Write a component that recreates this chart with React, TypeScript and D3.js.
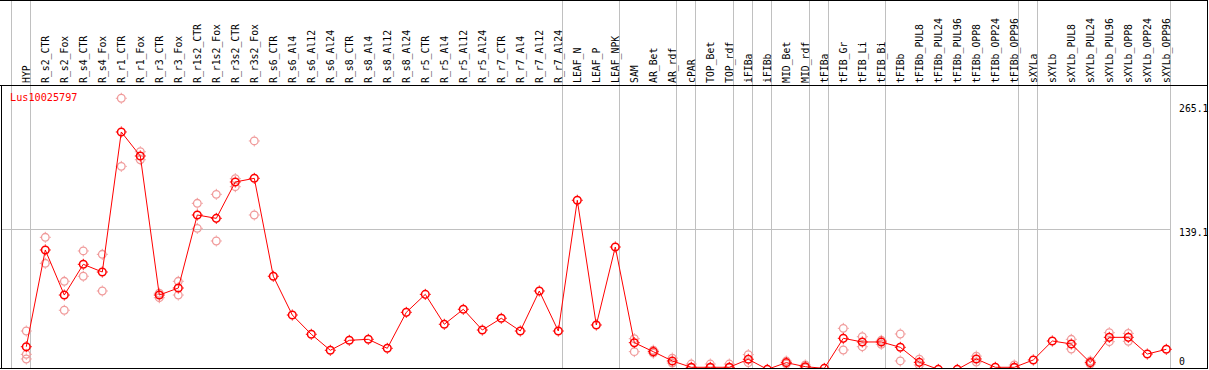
import React from "react";
import * as d3 from "d3";

const categories = [
  "HYP", "R_s2_CTR", "R_s2_Fox", "R_s4_CTR", "R_s4_Fox", "R_r1_CTR", "R_r1_Fox", "R_r3_CTR", "R_r3_Fox",
  "R_r1s2_CTR", "R_r1s2_Fox", "R_r3s2_CTR", "R_r3s2_Fox", "R_s6_CTR", "R_s6_Al4", "R_s6_Al12", "R_s6_Al24",
  "R_s8_CTR", "R_s8_Al4", "R_s8_Al12", "R_s8_Al24", "R_r5_CTR", "R_r5_Al4", "R_r5_Al12", "R_r5_Al24",
  "R_r7_CTR", "R_r7_Al4", "R_r7_Al12", "R_r7_Al24", "LEAF_N", "LEAF_P", "LEAF_NPK", "SAM", "AR_Bet", "AR_rdf",
  "cPAR", "TOP_Bet", "TOP_rdf", "iFIBa", "iFIBb", "MID_Bet", "MID_rdf", "tFIBa", "tFIB_Gr", "tFIB_Li", "tFIB_Bi",
  "tFIBb", "tFIBb_PUL8", "tFIBb_PUL24", "tFIBb_PUL96", "tFIBb_OPP8", "tFIBb_OPP24", "tFIBb_OPP96", "sXYLa",
  "sXYLb", "sXYLb_PUL8", "sXYLb_PUL24", "sXYLb_PUL96", "sXYLb_OPP8", "sXYLb_OPP24", "sXYLb_OPP96",
];

const means = [
  19.5, 117.4, 71.8, 102.9, 95.1, 236.8, 212.5, 71.8, 78.9,
  152.8, 149.4, 186.2, 189.9, 90.8, 51.6, 32.1, 15.9,
  26.0, 27.0, 17.9, 54.3, 72.5, 42.2, 57.4, 36.4,
  48.3, 35.4, 75.9, 35.4, 167.7, 41.5, 120.4, 23.6, 14.5, 5.1,
  -1.3, -1.3, -1.3, 6.8, -3.4, 3.4, -0.7, -2.4, 28.0, 24.3, 24.3,
  18.9, 3.7, -3.4, -3.4, 7.1, -1.3, -1.3, 6.1,
  25.3, 22.3, 3.4, 29.0, 29.0, 12.1, 16.9,
];

const replicates: number[][] = [
  [35.4, 11.8, 7.1], [130.2, 103.9], [85.7, 56.4], [116.4, 90.8], [113, 75.9], [270.9, 202], [216.8, 208.7],
  [69.1, 73.6], [85.7, 71.8], [164.6, 139.3], [173.7, 126.5], [189.5, 181.4], [227.7, 152.8],
  [], [], [], [], [], [], [], [], [], [], [], [], [], [], [], [], [], [], [],
  [27.6, 14.5], [16, 13], [8, 3], [2, -2], [2, -2], [2, -2], [11.5, 3.4], [], [5, 2], [1, -2], [],
  [38.1, 16.2], [29.6, 19.5], [26, 22], [32.4, 5.1], [7, 1], [], [], [10, 4], [], [1, -2], [], [],
  [27, 17.2], [5, 2], [33.7, 24.6], [33, 25], [], [],
];

const groupEnds = ["HYP", "R_r7_A124", "LEAF_NPK", "AR_rdf", "cPAR", "TOP_rdf", "iFIBa", "iFIBb", "MID_rdf",
  "tFIBa", "tFIB_Bi", "tFIBb_OPP96", "sXYLa", "sXYLb_OPP96"].map((s) => s.replace("A124", "Al24"));

const yTicks = [0, 139.1, 265.1];
const title = "Lus10025797";

const W = 1209, H = 370;
const FONT = "'DejaVu Sans Mono', monospace";

function Marker({ x, y, color, sw }: { x: number; y: number; color: string; sw: number }) {
  return (
    <g stroke={color} fill="none" strokeWidth={sw}>
      <circle cx={x} cy={y} r={3.8} />
      <line x1={x} x2={x} y1={y - 5.5} y2={y - 4.3} strokeWidth={1} />
      <line x1={x} x2={x} y1={y + 4.3} y2={y + 5.5} strokeWidth={1} />
      <line x1={x - 5.5} x2={x - 4.3} y1={y} y2={y} strokeWidth={1} />
      <line x1={x + 4.3} x2={x + 5.5} y1={y} y2={y} strokeWidth={1} />
    </g>
  );
}

export default function App() {
  const x = d3.scaleBand<string>().domain(categories).range([16.8, 16.8 + 19 * categories.length]);
  const cx = (c: string) => (x(c) as number) + x.bandwidth() / 2;
  const y = d3.scaleLinear().domain([0, 265.1]).range([366, 104]);

  const plotTop = 85, plotBottom = 368, plotLeft = 1, plotRight = 1207;
  const boundaries = [cx(categories[0]) - 15, ...groupEnds.map((g) => cx(g) + 4)];
  const lastLine = boundaries[boundaries.length - 1];

  const line = d3.line<number>().x((_, i) => cx(categories[i])).y((d) => y(d));

  return (
    <svg width={W} height={H} style={{ position: "absolute", left: 0, top: 0, background: "#fff" }}
      fontFamily={FONT}>
      <defs>
        <clipPath id="plotclip">
          <rect x={plotLeft} y={plotTop} width={plotRight - plotLeft} height={plotBottom - plotTop + 1} />
        </clipPath>
      </defs>
      {boundaries.map((b, i) => (
        <line key={i} x1={Math.round(b) + 0.5} x2={Math.round(b) + 0.5} y1={0} y2={plotBottom}
          stroke="#c0c0c0" strokeWidth={1} />
      ))}
      <line x1={plotLeft} x2={Math.round(lastLine)} y1={Math.round(y(139.1)) + 0.5} y2={Math.round(y(139.1)) + 0.5}
        stroke="#c0c0c0" strokeWidth={1} />
      {categories.map((c) => (
        <text key={c} transform={`translate(${cx(c) + 3.8},83) rotate(-90)`} fontSize={9.8} fill="#000">
          {c}
        </text>
      ))}
      <g clipPath="url(#plotclip)">
        {replicates.map((reps, i) =>
          reps.map((v, j) => (
            <Marker key={`${i}-${j}`} x={cx(categories[i])} y={y(v)} color="#f09a9a" sw={1.3} />
          ))
        )}
        <path d={line(means) || ""} fill="none" stroke="#ff0000" strokeWidth={1} />
        {means.map((v, i) => (
          <Marker key={i} x={cx(categories[i])} y={y(v)} color="#ff0000" sw={1.5} />
        ))}
      </g>
      <text x={10} y={101} fontSize={10.2} fill="#ff0000">{title}</text>
      {yTicks.map((t) => (
        <text key={t} x={1179} y={t === 0 ? 365 : y(t) + 7.5} fontSize={9.8} fill="#000">
          {t === 0 ? "0" : t.toFixed(1)}
        </text>
      ))}
      <line x1={0} x2={plotRight + 1} y1={0.5} y2={0.5} stroke="#000" />
      <line x1={0} x2={plotRight + 1} y1={85.5} y2={85.5} stroke="#000" />
      <line x1={0} x2={plotRight + 1} y1={plotBottom + 0.5} y2={plotBottom + 0.5} stroke="#000" />
      <line x1={1.5} x2={1.5} y1={85} y2={plotBottom + 1} stroke="#000" />
      <line x1={plotRight + 0.5} x2={plotRight + 0.5} y1={0} y2={plotBottom + 1} stroke="#000" />
    </svg>
  );
}
